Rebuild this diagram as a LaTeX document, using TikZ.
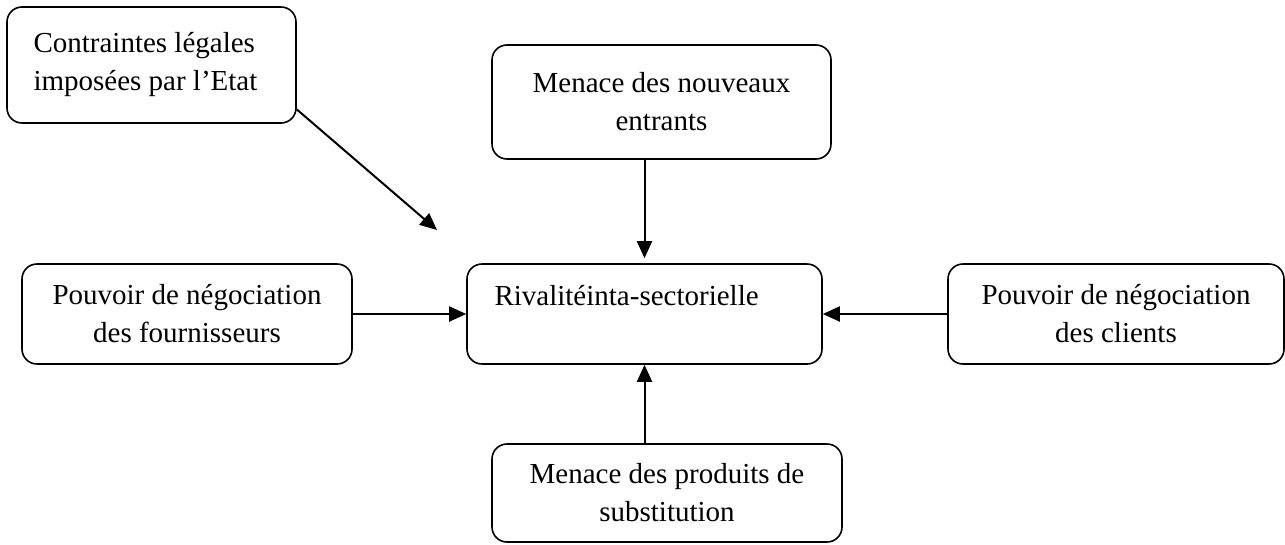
\documentclass[tikz,border=0pt]{standalone}
\usepackage{fontspec}
\setmainfont{Liberation Serif}
\usepackage{tikz}
\usetikzlibrary{arrows.meta, calc, positioning}

\begin{document}
\begin{tikzpicture}[x=1pt, y=-1pt,
    force/.style={draw, line width=1.6pt, rounded corners=15pt, align=center,
        font=\fontsize{29}{38}\selectfont, inner sep=0pt},
    push/.style={-{Triangle[length=17pt, width=15pt]}, line width=2pt}]
                        \useasboundingbox (0, 0) rectangle (1285, 544);
                        \node[force, minimum width=289, minimum height=116, text width=236, align=flush left] (legal) at (151.5, 65) {Contraintes légales\\imposées par l’Etat};
                        \node[force, minimum width=339, minimum height=114] (entrants) at (661.5, 102) {Menace des nouveaux\\entrants};
                        \node[force, minimum width=330, minimum height=100] (fourn) at (187, 314) {Pouvoir de négociation\\des fournisseurs};
                        \node[force, minimum width=355, minimum height=100, text width=300, align=flush left] (rival) at (644.5, 314) {Rivalitéinta-sectorielle\\~};
                        \node[force, minimum width=336, minimum height=100] (clients) at (1116, 314) {Pouvoir de négociation\\des clients};
                        \node[force, minimum width=350, minimum height=98] (subst) at (667, 493) {Menace des produits de\\substitution};
                        \coordinate (legaltip) at (437, 230);
                        \draw
                        (legal.-17) edge[push] (legaltip)
                        (rival.north |- entrants.south) edge[push, shorten >=5pt] (rival.north)
                        (fourn.east) edge[push] (rival.west)
                        (clients.west) edge[push] (rival.east)
                        (rival.south |- subst.north) edge[push] (rival.south);
                    \end{tikzpicture}
\end{document}
